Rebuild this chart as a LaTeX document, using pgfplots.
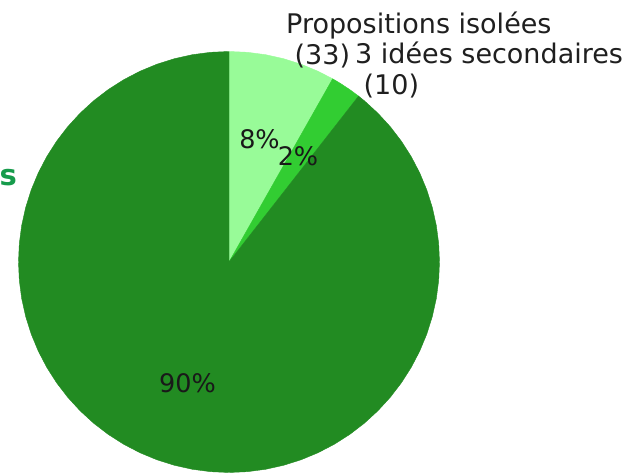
\documentclass[border=0pt]{standalone}
\usepackage{pgfplots}
\pgfplotsset{compat=1.18}
\usepackage{fontspec}
\setmainfont{DejaVu Sans}
\definecolor{c1}{RGB}{152,251,152}
\definecolor{c2}{RGB}{50,205,50}
\definecolor{c3}{RGB}{34,139,34}
\definecolor{lab}{RGB}{22,155,75}
\begin{document}
\begin{tikzpicture}[x=1pt,y=1pt]
\path[use as bounding box, clip] (0,0) rectangle (633,473);
\begin{axis}[at={(229pt,211pt)}, anchor=origin, scale only axis,
  width=421pt, height=421pt, xmin=-1, xmax=1, ymin=-1, ymax=1,
  hide axis, clip=false, data cs=polar]
% Propositions isolées (33) : 90 -> 60.5 deg
\addplot[fill=c1, draw=c1, line width=0.4pt, no markers] coordinates {
 (0,0) (90,1) (85,1) (80,1) (75,1) (70,1) (65,1) (60.5,1) (0,0)};
% 3 idées secondaires (10) : 60.5 -> 52 deg
\addplot[fill=c2, draw=c2, line width=0.4pt, no markers] coordinates {
 (0,0) (60.5,1) (58,1) (55,1) (52,1) (0,0)};
% remaining slice : 52 -> -270 deg
\addplot[fill=c3, draw=c3, line width=0.4pt, no markers] coordinates {
 (0,0) (52,1) (50,1) (45,1) (40,1) (35,1) (30,1) (25,1) (20,1) (15,1) (10,1) (5,1)
 (0,1) (-5,1) (-10,1) (-15,1) (-20,1) (-25,1) (-30,1) (-35,1) (-40,1) (-45,1)
 (-50,1) (-55,1) (-60,1) (-65,1) (-70,1) (-75,1) (-80,1) (-85,1) (-90,1)
 (-95,1) (-100,1) (-105,1) (-110,1) (-115,1) (-120,1) (-125,1) (-130,1) (-135,1)
 (-140,1) (-145,1) (-150,1) (-155,1) (-160,1) (-165,1) (-170,1) (-175,1) (-180,1)
 (-185,1) (-190,1) (-195,1) (-200,1) (-205,1) (-210,1) (-215,1) (-220,1) (-225,1)
 (-230,1) (-235,1) (-240,1) (-245,1) (-250,1) (-255,1) (-260,1) (-265,1) (-270,1) (0,0)};
\end{axis}
\begin{scope}[every node/.style={inner sep=0pt, font=\fontsize{25.5}{30}\selectfont, text=black!90}]
\node at (259.5,334) {8\%};
\node at (298,317) {2\%};
\node at (187.5,90) {90\%};
\end{scope}
\begin{scope}[every node/.style={inner sep=0pt, font=\fontsize{27}{30.5}\selectfont, text=black!88}]
\node[anchor=west, align=left] at (286,433) {Propositions isolées\\\hspace*{8.5pt}(33)};
\node[anchor=west, align=left] at (355,403) {3 idées secondaires\\\hspace*{8.5pt}(10)};
\end{scope}
\node[anchor=base east, inner sep=0pt, text=lab, font=\fontsize{29}{34}\selectfont\bfseries] at (17,287) {Idées principales};
\end{tikzpicture}
\end{document}
